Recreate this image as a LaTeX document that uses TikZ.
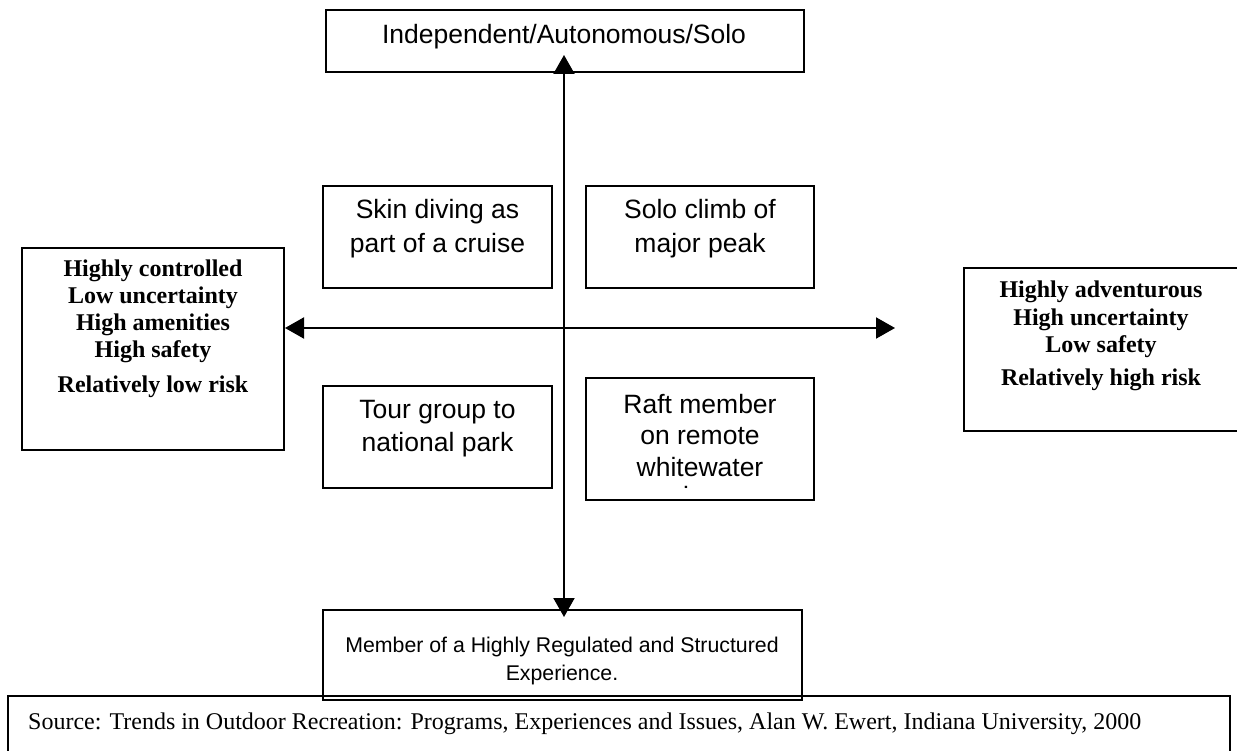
\documentclass[tikz,border=0pt]{standalone}
\usepackage{fontspec}
\setmainfont{Liberation Serif}
\newfontfamily\arialfont{Liberation Sans}
\usetikzlibrary{arrows.meta}
\tikzset{
  frame/.style={draw, line width=2.2pt, inner sep=0pt, rectangle},
  sanstext/.style={inner sep=0pt, align=center},
  boldtext/.style={inner sep=0pt, align=center},
  axisline/.style={line width=2pt,
    {Triangle[length=19pt,width=21pt]}-{Triangle[length=19pt,width=21pt]}},
}
\begin{document}
\begin{tikzpicture}[x=1pt,y=-1pt]
\useasboundingbox (0,0) rectangle (1237,751);

% boxes
\node[frame, minimum width=478pt, minimum height=62pt] (top) at (565,41) {};
\node[frame, minimum width=229pt, minimum height=102pt] (skin) at (437.5,237) {};
\node[frame, minimum width=228pt, minimum height=102pt] (solo) at (700,237) {};
\node[frame, minimum width=229pt, minimum height=102pt] (tour) at (437.5,437) {};
\node[frame, minimum width=228pt, minimum height=122pt] (raft) at (700,439) {};
\node[frame, minimum width=262pt, minimum height=202pt] (left) at (153,349) {};
\node[frame, minimum width=274pt, minimum height=163pt] (right) at (1101,349.5) {};
\node[frame, minimum width=479pt, minimum height=90pt] (bottom) at (562.5,655) {};
\node[frame, minimum width=1222pt, minimum height=56pt] (source) at (619,724) {};

% texts
\node[sanstext, font={\arialfont\fontsize{26.5}{34}\selectfont}] (toptext) at (564,37) {Independent/Autonomous/Solo};
\node[sanstext, font={\arialfont\fontsize{26.5}{34}\selectfont}] (skintext) at (437.5,229) {Skin diving as\\part of a cruise};
\node[sanstext, font={\arialfont\fontsize{26.5}{34}\selectfont}] (solotext) at (700,229) {Solo climb of\\major peak};
\node[sanstext, font={\arialfont\fontsize{26.5}{33}\selectfont}] (tourtext) at (437.5,428.5) {Tour group to\\national park};
\node[sanstext, font={\arialfont\fontsize{26.5}{31.5}\selectfont}] (rafttext) at (700,435.5) {Raft member\\on remote\\whitewater};
\begin{scope}
  \clip (590,481) rectangle (810,488);
  \node[sanstext, anchor=base, font={\arialfont\fontsize{26.5}{31.5}\selectfont}] (raftcut) at (700,505.4) {river};
\end{scope}
\node[boldtext, font={\bfseries\fontsize{24}{27}\selectfont}] (lefttext) at (153,329)
  {Highly controlled\\Low uncertainty\\High amenities\\High safety\\[8pt]Relatively low risk};
\node[boldtext, font={\bfseries\fontsize{24}{27.5}\selectfont}] (righttext) at (1101,336)
  {Highly adventurous\\High uncertainty\\Low safety\\[5.5pt]Relatively high risk};
\node[sanstext, font={\arialfont\fontsize{21.3}{28}\selectfont}] (bottomtext) at (562,661)
  {Member of a Highly Regulated and Structured\\Experience.};
\node[inner sep=0pt, anchor=west, font={\fontsize{24}{28}\selectfont}] (sourcetext) at (28,724)
  {Source: Trends in Outdoor Recreation: Programs, Experiences and Issues, Alan W. Ewert, Indiana University, 2000};

% axes
\coordinate (vtop) at (564,55);
\coordinate (vbot) at (564,617);
\coordinate (hleft) at (285,328);
\coordinate (hright) at (895,328);
\draw[axisline] (vbot) -- (vtop);
\draw[axisline] (hleft) -- (hright);
\end{tikzpicture}
\end{document}
